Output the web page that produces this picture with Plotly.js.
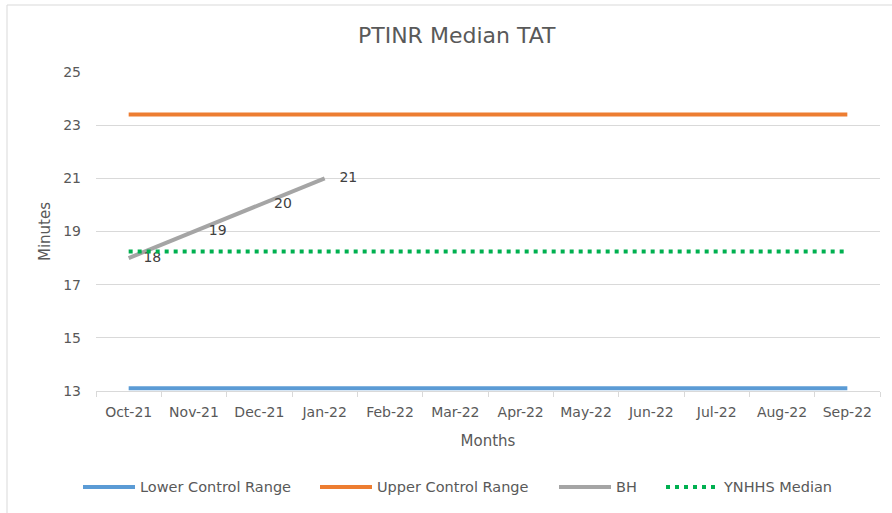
<!DOCTYPE html>
<html>
<head>
<meta charset="utf-8">
<script src="https://cdn.plot.ly/plotly-3.0.1.min.js"></script>
<style>html,body{margin:0;padding:0;background:#fff;}#chart{width:892px;height:513px;}</style>
</head>
<body>
<div id="chart"></div>
<script>
const months = ["Oct-21","Nov-21","Dec-21","Jan-22","Feb-22","Mar-22","Apr-22","May-22","Jun-22","Jul-22","Aug-22","Sep-22"];
const lowerControl = [13.1,13.1,13.1,13.1,13.1,13.1,13.1,13.1,13.1,13.1,13.1,13.1];
const upperControl = [23.4,23.4,23.4,23.4,23.4,23.4,23.4,23.4,23.4,23.4,23.4,23.4];
const bhMonths = ["Oct-21","Nov-21","Dec-21","Jan-22"];
const bhValues = [18,19,20,21];
const ynhhsMedian = [18.25,18.25,18.25,18.25,18.25,18.25,18.25,18.25,18.25,18.25,18.25,18.25];
const yTicks = [13,15,17,19,21,23,25];
const seriesNames = ["Lower Control Range","Upper Control Range","BH","YNHHS Median"];
const seriesColors = ["#5B9BD5","#ED7D31","#A5A5A5","#00B050"];

const FONT = "DejaVu Sans, Liberation Sans, Arial, sans-serif";
const TXT = "#595959";
const DOT = "4px,5px";

const traces = [
  {x: months, y: lowerControl, name: seriesNames[0], type: "scatter", mode: "lines",
   line: {color: seriesColors[0], width: 4}},
  {x: months, y: upperControl, name: seriesNames[1], type: "scatter", mode: "lines",
   line: {color: seriesColors[1], width: 4}},
  {x: bhMonths, y: bhValues, name: seriesNames[2], type: "scatter", mode: "lines+markers+text",
   line: {color: seriesColors[2], width: 4},
   marker: {size: 22, color: "rgba(0,0,0,0)"},
   text: bhValues.map(String), textposition: "middle right",
   textfont: {family: FONT, size: 14, color: "#404040"}},
  {x: months, y: ynhhsMedian, name: seriesNames[3], type: "scatter", mode: "lines",
   line: {color: seriesColors[3], width: 4, dash: DOT}}
];

// plot area in pixels: x 96..880, y 72..391
const PX = p => (p - 96) / 784;
const PY = p => (391 - p) / 319;

// custom legend (Excel style: long line sample then text)
const legLineStart = [83, 320, 559, 666];
const legY = 487;
const shapes = [
  {type: "line", xref: "paper", yref: "paper", x0: PX(7), x1: PX(900), y0: PY(5), y1: PY(5),
   line: {color: "#D9D9D9", width: 1}},
  {type: "line", xref: "paper", yref: "paper", x0: PX(7), x1: PX(7), y0: PY(5), y1: PY(520),
   line: {color: "#D9D9D9", width: 1}}
];
const annotations = [];
seriesNames.forEach((nm, i) => {
  const s = legLineStart[i];
  shapes.push({type: "line", xref: "paper", yref: "paper", x0: PX(s), x1: PX(s + 52), y0: PY(legY), y1: PY(legY),
    line: {color: seriesColors[i], width: 4, dash: i === 3 ? DOT : "solid"}});
  annotations.push({xref: "paper", yref: "paper", x: PX(s + 55), y: PY(legY), xanchor: "left", yanchor: "middle",
    text: nm, showarrow: false, font: {family: FONT, size: 14.5, color: TXT}});
});

const layout = {
  width: 892, height: 513,
  margin: {l: 96, r: 12, t: 72, b: 122},
  paper_bgcolor: "#ffffff", plot_bgcolor: "#ffffff",
  font: {family: FONT, size: 14, color: TXT},
  title: {text: "PTINR Median TAT", font: {family: FONT, size: 22, color: TXT},
          xref: "container", x: 0.512, xanchor: "center", yref: "container", y: 0.932, yanchor: "middle"},
  showlegend: false,
  xaxis: {type: "category", categoryorder: "array", categoryarray: months, range: [-0.5, 11.5],
          showgrid: false, showline: true, linecolor: "#D9D9D9", linewidth: 1,
          ticks: "outside", tickson: "boundaries", ticklen: 5, tickcolor: "#D9D9D9",
          tickfont: {family: FONT, size: 14, color: TXT}, ticklabelstandoff: 8,
          title: {text: "Months", font: {family: FONT, size: 15, color: TXT}, standoff: 16},
          fixedrange: true, zeroline: false},
  yaxis: {range: [13, 25], tickvals: yTicks, ticktext: yTicks.map(String),
          showgrid: true, gridcolor: "#D9D9D9", gridwidth: 1, showline: false, zeroline: false,
          ticks: "", ticklabelstandoff: 14, tickfont: {family: FONT, size: 14, color: TXT},
          title: {text: "Minutes", font: {family: FONT, size: 15, color: TXT}, standoff: 8},
          fixedrange: true},
  shapes: shapes,
  annotations: annotations
};

Plotly.newPlot("chart", traces, layout, {displayModeBar: false, staticPlot: true});
</script>
</body>
</html>
